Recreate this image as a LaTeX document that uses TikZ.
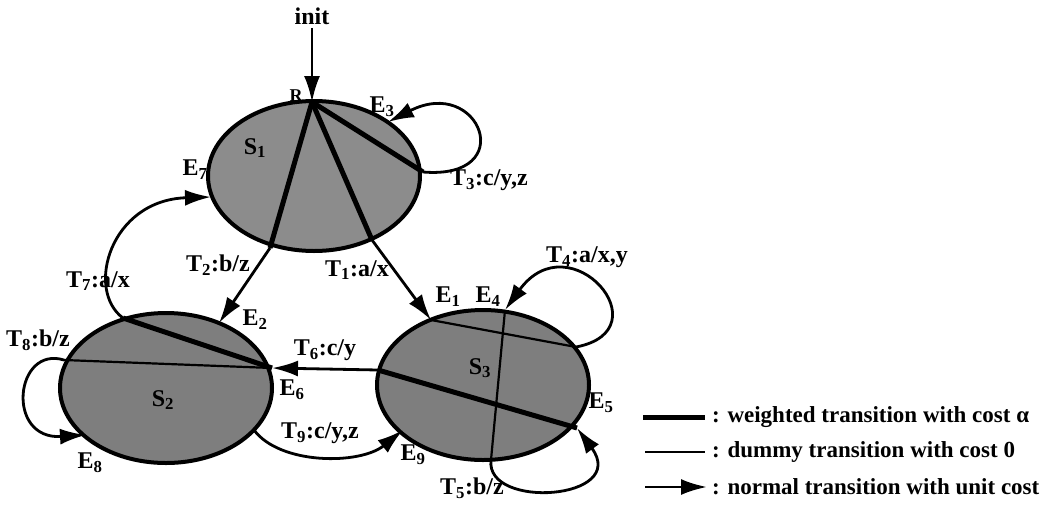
\documentclass[tikz,border=0pt]{standalone}
\usepackage{fontspec}
\setmainfont{Liberation Serif}
\usetikzlibrary{arrows.meta,shapes.geometric}
\definecolor{stgray}{HTML}{8C8C8C}
\definecolor{stdark}{HTML}{7E7E7E}

\begin{document}
\begin{tikzpicture}[
    x=1pt,
    y=-1pt,
    font=\fontsize{24}{28}\selectfont\bfseries,
    state/.style={ellipse, draw=black, line width=4pt, fill=stdark, minimum width=212pt, minimum height=150pt, inner sep=0pt},
    weighted/.style={line width=5pt},
    dummy/.style={line width=2.2pt},
    normal/.style={line width=2.8pt, -{Latex[length=26pt,width=16pt]}},
    lbl/.style={inner sep=1pt},
    keytext/.style={inner sep=1pt, anchor=west, font=\fontsize{23}{27}\selectfont\bfseries}
  ]
    \useasboundingbox (0,0) rectangle (1048,517);

    \node[state, fill=stgray] (s1) at (314,176) {};
    \node[state] (s2) at (166,388) {};
    \node[state] (s3) at (483,385) {};
    \node[lbl] (ls1) at (255,148) {S\textsubscript{1}};
    \node[lbl] (ls2) at (163,400) {S\textsubscript{2}};
    \node[lbl] (ls3) at (480,368) {S\textsubscript{3}};

    \coordinate (R) at (312,102);
    \coordinate (d1) at (372,240);
    \coordinate (d2) at (270,248);
    \coordinate (d3) at (423,172);
    \coordinate (e3) at (388,122);
    \coordinate (e7) at (211,197);
    \coordinate (e2) at (219,323);
    \coordinate (e1) at (431,320);
    \coordinate (d7) at (123,318);
    \coordinate (d8) at (64,360);
    \coordinate (d9) at (254,430);
    \coordinate (e6) at (272,368);
    \coordinate (d6) at (378,370);
    \coordinate (e8) at (86,435);
    \coordinate (e9) at (403,430);
    \coordinate (e4) at (505,310);
    \coordinate (d4) at (576,347);
    \coordinate (e5) at (577,428);
    \coordinate (d5) at (491,460);

    \draw[weighted] (R) -- (d1);
    \draw[weighted] (R) -- (d2);
    \draw[weighted] (R) -- (d3);
    \draw[weighted] (d7) -- (e6);
    \draw[dummy] (d8) -- (e6);
    \draw[weighted] (d6) -- (e5);
    \draw[dummy] (e1) -- (d4);
    \draw[dummy] (e4) -- (d5);

    \node (init) at (312,16) {init};
    \draw[normal] (init) -- (R);
    \draw[normal] (d2) -- (e2);
    \draw[normal] (d1) -- (e1);
    \draw[normal] (d6) -- (e6);
    \draw[normal] (d3) .. controls (520,180) and (480,75) .. (e3);
    \draw[normal] (d7) .. controls (85,290) and (110,200) .. (e7);
    \draw[normal] (d8) .. controls (15,345) and (5,440) .. (e8);
    \draw[normal] (d9) .. controls (280,465) and (360,465) .. (e9);
    \draw[normal] (d4) .. controls (665,330) and (570,220) .. (e4);
    \draw[normal] (d5) .. controls (485,510) and (630,500) .. (e5);

    \node[lbl] (lr) at (296,96) {\fontsize{18}{20}\selectfont R};
    \node[lbl] (le3) at (382,107) {E\textsubscript{3}};
    \node[lbl] (lt3) at (489,180) {T\textsubscript{3}:c/y,z};
    \node[lbl] (le7) at (195,170) {E\textsubscript{7}};
    \node[lbl] (lt7) at (98,281) {T\textsubscript{7}:a/x};
    \node[lbl] (lt2) at (218,265) {T\textsubscript{2}:b/z};
    \node[lbl] (lt1) at (357,270) {T\textsubscript{1}:a/x};
    \node[lbl] (le2) at (255,320) {E\textsubscript{2}};
    \node[lbl] (le1) at (448,297) {E\textsubscript{1}};
    \node[lbl] (le4) at (488,297) {E\textsubscript{4}};
    \node[lbl] (lt4) at (587,257) {T\textsubscript{4}:a/x,y};
    \node[lbl] (lt8) at (38,340) {T\textsubscript{8}:b/z};
    \node[lbl] (lt6) at (325,350) {T\textsubscript{6}:c/y};
    \node[lbl] (le6) at (292,390) {E\textsubscript{6}};
    \node[lbl] (le8) at (90,463) {E\textsubscript{8}};
    \node[lbl] (lt9) at (320,433) {T\textsubscript{9}:c/y,z};
    \node[lbl] (le9) at (413,455) {E\textsubscript{9}};
    \node[lbl] (le5) at (601,403) {E\textsubscript{5}};
    \node[lbl] (lt5) at (472,488) {T\textsubscript{5}:b/z};

    \coordinate (k1a) at (643,417);
    \coordinate (k1b) at (705,417);
    \coordinate (k2a) at (645,452);
    \coordinate (k2b) at (705,452);
    \coordinate (k3a) at (645,487);
    \coordinate (k3b) at (707,487);
    \draw[weighted] (k1a) -- (k1b);
    \draw[dummy] (k2a) -- (k2b);
    \draw[normal] (k3a) -- (k3b);
    \node[keytext] (key1) at (711,417) {: weighted transition with cost α};
    \node[keytext] (key2) at (711,452) {: dummy transition with cost 0};
    \node[keytext] (key3) at (711,487) {: normal transition with unit cost};
  \end{tikzpicture}
\end{document}
